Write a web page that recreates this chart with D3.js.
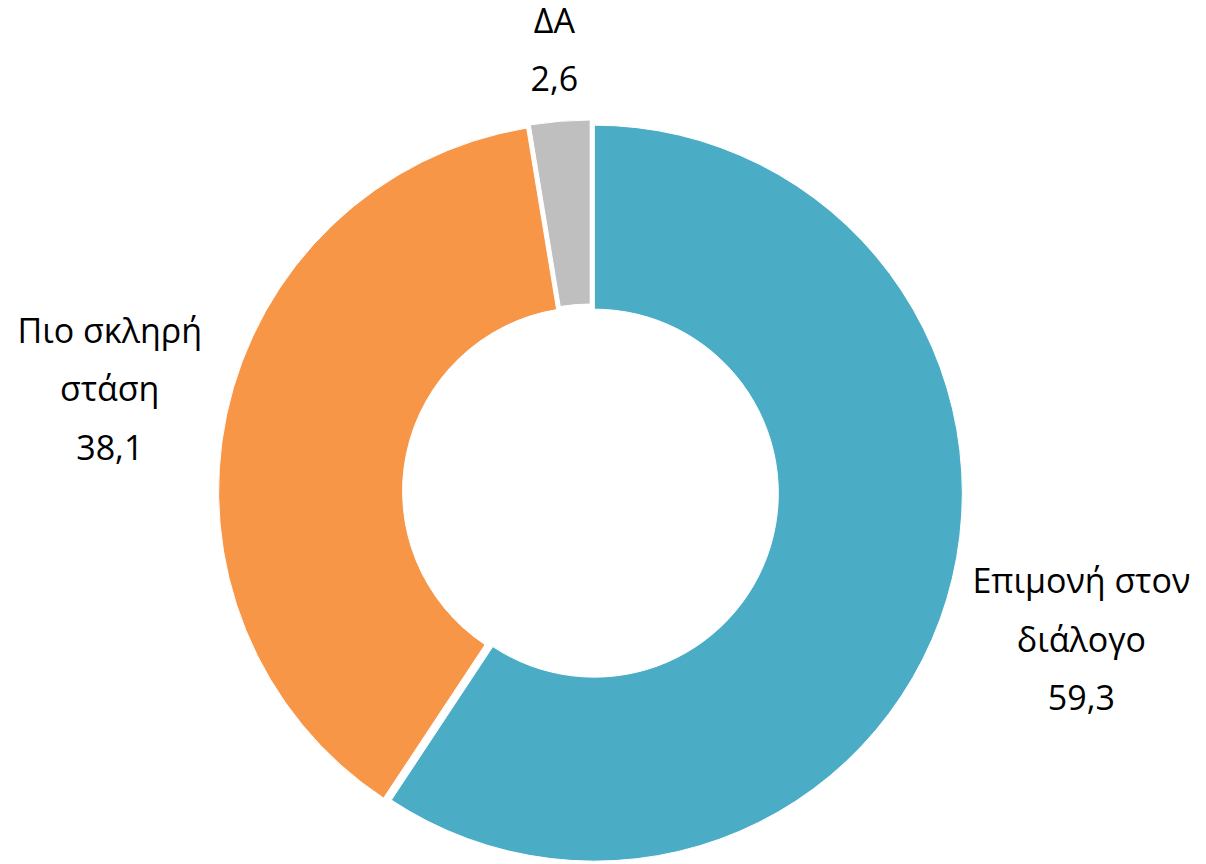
<!DOCTYPE html>
<html lang="el">
<head>
<meta charset="utf-8">
<title>Donut</title>
<script src="https://d3js.org/d3.v7.min.js"></script>
<style>
  body { margin: 0; background: #fff; }
  svg text { font-family: "Open Sans", "Noto Sans", sans-serif; font-size: 34px; fill: #000; }
</style>
</head>
<body>
<div id="chart"></div>
<script>
// data
var categories = ["Επιμονή στον διάλογο", "Πιο σκληρή στάση", "ΔΑ"];
var labelLines = [["Επιμονή στον", "διάλογο"], ["Πιο σκληρή", "στάση"], ["ΔΑ"]];
var values = [59.3, 38.1, 2.6];
var colors = ["#4BACC6", "#F79646", "#BFBFBF"];

var w = 1206, h = 864;
var cx = 590.5, cy = 492;
var outerR = 368, innerR = 184;
var explode = 4;
var lineH = 58.5;
var gap = 15;

var svg = d3.select("#chart").append("svg")
  .attr("width", w).attr("height", h);

var pie = d3.pie().sort(null).value(function(d) { return d; });
var arc = d3.arc().innerRadius(innerR).outerRadius(outerR);
var arcs = pie(values);

var g = svg.append("g").attr("transform", "translate(" + cx + "," + cy + ")");

g.selectAll("path.slice")
  .data(arcs)
  .enter().append("path")
  .attr("class", "slice")
  .attr("d", arc)
  .attr("fill", function(d, i) { return colors[i]; })
  .attr("stroke", "#fff")
  .attr("stroke-width", 1)
  .attr("transform", function(d) {
    var a = (d.startAngle + d.endAngle) / 2;
    return "translate(" + (Math.sin(a) * explode) + "," + (-Math.cos(a) * explode) + ")";
  });

// labels
var fmt = function(v) { return d3.format(".1f")(v).replace(".", ","); };

arcs.forEach(function(d, i) {
  var lines = labelLines[i].concat([fmt(values[i])]);
  var lab = g.append("text").attr("text-anchor", "middle");
  var n = lines.length;
  lines.forEach(function(t, k) {
    lab.append("tspan").attr("x", 0)
      .attr("y", (k - (n - 1) / 2) * lineH + 12)
      .text(t);
  });
  var bw = d3.max(lab.selectAll("tspan").nodes(), function(nd) { return nd.getComputedTextLength(); });
  var bh = n * lineH;
  var a = (d.startAngle + d.endAngle) / 2;
  var s = Math.sin(a), c = -Math.cos(a);
  var dist = outerR + gap + Math.abs(s) * bw / 2 + Math.abs(c) * bh / 2;
  lab.attr("transform", "translate(" + (s * dist) + "," + (c * dist) + ")");
});
</script>
</body>
</html>
